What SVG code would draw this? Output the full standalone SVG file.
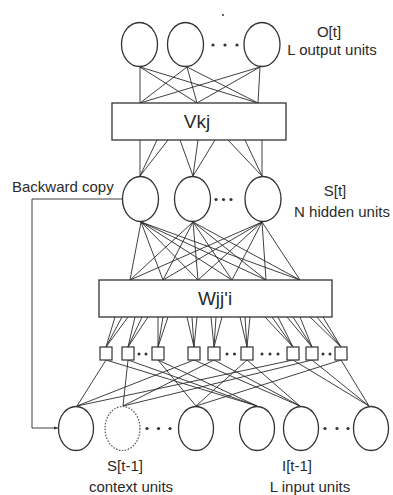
<svg xmlns="http://www.w3.org/2000/svg" width="393" height="495" viewBox="0 0 393 495">
  <style>
    .unit { fill: #fff; stroke: #333; stroke-width: 1.3; }
    .ghost { fill: #fff; stroke: #555; stroke-width: 1.2; stroke-dasharray: 1.6 1.4; }
    .box { fill: #fff; stroke: #333; stroke-width: 1.3; }
    .sq { fill: #fff; stroke: #333; stroke-width: 1.2; }
    .wire { stroke: #2a2a2a; stroke-width: 0.9; fill: none; }
    .dot { fill: #333; }
    .lbl { font-family: "Liberation Sans", Arial, sans-serif; font-size: 15px; fill: #2a2a2a; }
    .wt { font-family: "Liberation Sans", Arial, sans-serif; font-size: 19px; fill: #2a2a2a; text-anchor: middle; }
  </style>
  <defs>
    <marker id="arrow" viewBox="0 0 6 6" refX="6" refY="3" markerWidth="5" markerHeight="5" orient="auto">
      <path d="M0,0.8 L6,3 L0,5.2 z" fill="#333"/>
    </marker>
  </defs>

  <!-- connectors -->
  <g id="connectors" class="wire">
    <!-- output units to Vkj -->
    <path d="M140,67 L140,103 M140,67 L197,103 M140,67 L258,103
             M187,67 L140,103 M187,67 L197,103 M187,67 L258,103
             M260,67 L140,103 M260,67 L197,103 M260,67 L258,103"/>
    <!-- Vkj to hidden units -->
    <path d="M140,140 L140,176 M157,140 L140,176 M168,140 L140,176
             M180,140 L193,176 M198,140 L193,176 M215,140 L193,176
             M228,140 L262,176 M245,140 L262,176 M262,140 L262,176"/>
    <!-- hidden units to Wjj'i -->
    <path d="M141,222 L130,280 M141,222 L163,280 M141,222 L198,280 M141,222 L232,280 M141,222 L266,280 M141,222 L300,280
             M193,222 L130,280 M193,222 L163,280 M193,222 L198,280 M193,222 L232,280 M193,222 L266,280 M193,222 L300,280
             M262,222 L130,280 M262,222 L163,280 M262,222 L198,280 M262,222 L232,280 M262,222 L266,280 M262,222 L300,280"/>
    <!-- Wjj'i to product units -->
    <path d="M115,317 L106,347 M122,317 L106,347 M128,317 L106,347
             M135,317 L128,347 M142,317 L128,347 M148,317 L128,347
             M158,317 L158,347 M163,317 L158,347 M168,317 L158,347
             M187,317 L194,347 M192,317 L194,347 M197,317 L194,347
             M211,317 L214,347 M216,317 L214,347 M222,317 L214,347
             M240,317 L247,347 M245,317 L247,347 M250,317 L247,347
             M265,317 L293,347 M272,317 L293,347 M278,317 L293,347
             M287,317 L312,347 M293,317 L312,347 M300,317 L312,347
             M310,317 L341,347 M317,317 L341,347 M323,317 L341,347"/>
    <!-- product units to context units -->
    <path d="M106,360 L77,406 M194,360 L77,406 M293,360 L77,406
             M128,360 L123,406 M214,360 L123,406 M312,360 L123,406
             M158,360 L196,406 M247,360 L196,406 M341,360 L196,406"/>
    <!-- product units to input units -->
    <path d="M106,360 L257,406 M128,360 L257,406 M158,360 L257,406
             M194,360 L300,406 M214,360 L300,406 M247,360 L300,406
             M293,360 L369,406 M312,360 L369,406 M341,360 L369,406"/>
    <!-- backward copy -->
    <path d="M122,199 L32,199 L32,428 L58,428" marker-end="url(#arrow)"/>
  </g>

  <!-- output layer -->
  <g id="output-units">
    <ellipse class="unit" cx="139.5" cy="44.5" rx="18" ry="22"/>
    <ellipse class="unit" cx="185.5" cy="44.5" rx="18" ry="22"/>
    <ellipse class="unit" cx="262" cy="44.5" rx="18" ry="22"/>
    <circle class="dot" cx="213" cy="45" r="1.6"/>
    <circle class="dot" cx="225" cy="45" r="1.6"/>
    <circle class="dot" cx="237" cy="45" r="1.6"/>
    <circle class="dot" cx="223" cy="15" r="1"/>
    <text class="lbl" x="329" y="37" text-anchor="middle">O[t]</text>
    <text class="lbl" x="332" y="55" text-anchor="middle">L output units</text>
  </g>

  <!-- V weights -->
  <g id="vkj">
    <rect class="box" x="112" y="103" width="174" height="37"/>
    <text class="wt" x="197" y="128">Vkj</text>
  </g>

  <!-- hidden layer -->
  <g id="hidden-units">
    <ellipse class="unit" cx="140.5" cy="199" rx="18" ry="22.5"/>
    <ellipse class="unit" cx="192.5" cy="199" rx="18" ry="22.5"/>
    <ellipse class="unit" cx="263" cy="199" rx="18" ry="22.5"/>
    <circle class="dot" cx="216" cy="199.5" r="1.6"/>
    <circle class="dot" cx="223.5" cy="199.5" r="1.6"/>
    <circle class="dot" cx="231" cy="199.5" r="1.6"/>
    <text class="lbl" x="335" y="196" text-anchor="middle">S[t]</text>
    <text class="lbl" x="342" y="217" text-anchor="middle">N hidden units</text>
    <text class="lbl" x="12" y="192">Backward copy</text>
  </g>

  <!-- W weights -->
  <g id="wjji">
    <rect class="box" x="99" y="280" width="233" height="37"/>
    <text class="wt" x="215" y="305">Wjj'i</text>
  </g>

  <!-- second-order product units -->
  <g id="product-units">
    <rect class="sq" x="100" y="347" width="12" height="13"/>
    <rect class="sq" x="122" y="347" width="12" height="13"/>
    <rect class="sq" x="152" y="347" width="12" height="13"/>
    <rect class="sq" x="188" y="347" width="12" height="13"/>
    <rect class="sq" x="208" y="347" width="12" height="13"/>
    <rect class="sq" x="241" y="347" width="12" height="13"/>
    <rect class="sq" x="287" y="347" width="12" height="13"/>
    <rect class="sq" x="306" y="347" width="12" height="13"/>
    <rect class="sq" x="335" y="347" width="12" height="13"/>
    <circle class="dot" cx="139" cy="354" r="1.5"/>
    <circle class="dot" cx="146" cy="354" r="1.5"/>
    <circle class="dot" cx="227" cy="354" r="1.5"/>
    <circle class="dot" cx="234.5" cy="354" r="1.5"/>
    <circle class="dot" cx="262" cy="354" r="1.5"/>
    <circle class="dot" cx="270" cy="354" r="1.5"/>
    <circle class="dot" cx="278" cy="354" r="1.5"/>
    <circle class="dot" cx="323" cy="354" r="1.5"/>
    <circle class="dot" cx="330" cy="354" r="1.5"/>
  </g>

  <!-- context units -->
  <g id="context-units">
    <ellipse class="unit" cx="76" cy="428.5" rx="17.5" ry="22"/>
    <ellipse class="ghost" cx="122.5" cy="428.5" rx="17.5" ry="22"/>
    <ellipse class="unit" cx="196" cy="428.5" rx="17.5" ry="22"/>
    <circle class="dot" cx="147" cy="428.5" r="1.6"/>
    <circle class="dot" cx="158.5" cy="428.5" r="1.6"/>
    <circle class="dot" cx="170" cy="428.5" r="1.6"/>
    <text class="lbl" x="125" y="471" text-anchor="middle">S[t-1]</text>
    <text class="lbl" x="131" y="492" text-anchor="middle">context units</text>
  </g>

  <!-- input units -->
  <g id="input-units">
    <ellipse class="unit" cx="257" cy="428.5" rx="17.5" ry="22"/>
    <ellipse class="unit" cx="301" cy="428.5" rx="17.5" ry="22"/>
    <ellipse class="unit" cx="371" cy="428.5" rx="17.5" ry="22"/>
    <circle class="dot" cx="325" cy="428.5" r="1.6"/>
    <circle class="dot" cx="337" cy="428.5" r="1.6"/>
    <circle class="dot" cx="348" cy="428.5" r="1.6"/>
    <text class="lbl" x="297" y="471" text-anchor="middle">I[t-1]</text>
    <text class="lbl" x="310" y="492" text-anchor="middle">L input units</text>
  </g>
</svg>
